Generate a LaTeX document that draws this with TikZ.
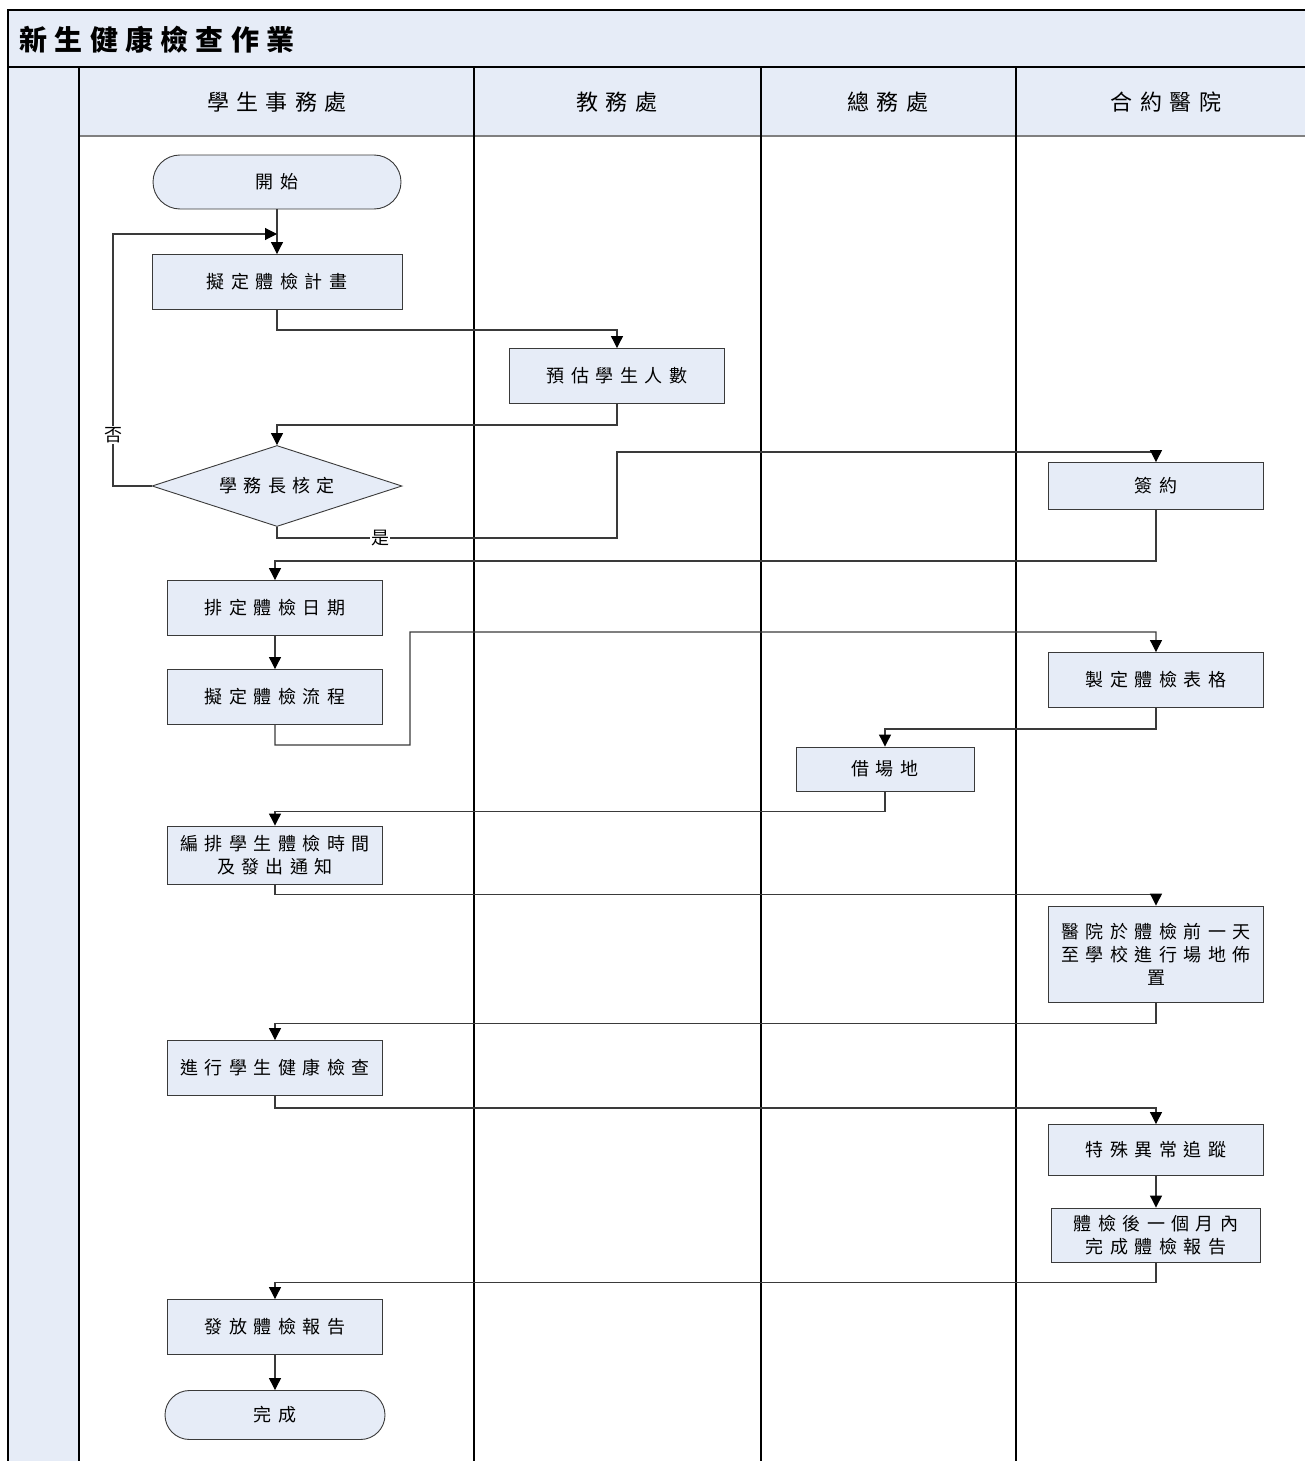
\documentclass[tikz,border=0pt]{standalone}
\usepackage{fontspec}
\setmainfont{Noto Sans CJK TC}
\usetikzlibrary{shapes.geometric,shapes.misc,arrows.meta}
\definecolor{fillb}{HTML}{E6ECF7}
\definecolor{ln}{HTML}{3A3A3A}
\newfontfamily\boxf{Noto Sans CJK TC}[LetterSpace=36]
\newfontfamily\headf{Noto Sans CJK TC}[LetterSpace=34]
\newfontfamily\titlef{Noto Sans CJK TC}[LetterSpace=26]
\begin{document}
\begin{tikzpicture}[x=1pt,y=-1pt,
  proc/.style={draw=ln,fill=fillb,line width=0.9pt,inner sep=1pt,align=center,
    font=\boxf\fontsize{18}{23}\selectfont,minimum width=215pt,minimum height=55pt},
  term/.style={proc,rounded rectangle},
  dec/.style={proc,diamond,aspect=3.09,minimum width=250pt,minimum height=81pt,inner sep=0pt},
  conn/.style={draw=ln,line width=1.1pt,-{Triangle[length=12pt,width=12pt,color=black]}},
  lbl/.style={fill=white,inner sep=1pt,font=\boxf\fontsize{18}{20}\selectfont},
  lane/.style={draw=black,line width=1.3pt},
  head/.style={font=\headf\fontsize{22}{26}\selectfont}]
\useasboundingbox (0,0) rectangle (1305,1461);
% background bands
\fill[fillb] (8,10) rectangle (1305,67);
\fill[fillb] (79,67) rectangle (1305,136);
\fill[fillb] (8,67) rectangle (79,1461);
\draw[lane] (8,1461) -- (8,10) -- (1305,10);
\draw[lane] (8,67) -- (1305,67);
\draw[draw=gray,line width=1.3pt] (79,136) -- (1305,136);
\foreach \x in {79,474,761,1016} \draw[lane] (\x,67) -- (\x,1461);
\node[anchor=west,font=\titlef\bfseries\fontsize{28}{30}\selectfont] (title) at (16,40) {新生健康檢查作業};
\node[head] (h1) at (277,102) {學生事務處};
\node[head] (h2) at (617,102) {教務處};
\node[head] (h3) at (888,102) {總務處};
\node[head] (h4) at (1166,102) {合約醫院};
% nodes
\node[term,minimum width=250pt,minimum height=54pt] (start) at (277,182) {開始};
\node[proc,minimum width=250pt] (plan) at (277,282) {擬定體檢計畫};
\node[proc] (est) at (617,376) {預估學生人數};
\node[dec] (dec) at (277,486) {學務長核定};
\node[proc,minimum height=47pt] (sign) at (1156,486) {簽約};
\node[proc] (sched) at (275,608) {排定體檢日期};
\node[proc] (flow) at (275,697) {擬定體檢流程};
\node[proc] (form) at (1156,680) {製定體檢表格};
\node[proc,minimum width=178pt,minimum height=44pt] (venue) at (885,769) {借場地};
\node[proc,minimum height=58pt] (notice) at (275,855) {編排學生體檢時間\\及發出通知};
\node[proc,minimum height=96pt] (setup) at (1156,954) {醫院於體檢前一天\\至學校進行場地佈\\置};
\node[proc] (exam) at (275,1068) {進行學生健康檢查};
\node[proc,minimum height=51pt] (follow) at (1156,1150) {特殊異常追蹤};
\node[proc,minimum width=209pt,minimum height=54pt] (report) at (1156,1235) {體檢後一個月內\\完成體檢報告};
\node[proc] (issue) at (275,1327) {發放體檢報告};
\node[term,minimum width=222pt,minimum height=49pt] (done) at (275,1415) {完成};
% connectors
\draw[conn] (start.south) -- (plan.north);
\coordinate (loopend) at (277,234);
\draw[conn] (dec.west) -- (113,486) -- (113,234) -- (loopend);
\node[lbl] (no) at (113,435) {否};
\draw[conn] (plan.south) -- ++(0,20) -| (est.north);
\draw[conn] (est.south) -- ++(0,21) -| (dec.north);
\draw[conn] (dec.south) |- (617,538) -- (617,452) -| (sign.north);
\node[lbl] (yes) at (380,538) {是};
\draw[conn] (sign.south) -- ++(0,51) -| (sched.north);
\draw[conn] (sched.south) -- (flow.north);
\draw[conn] (flow.south) -- ++(0,20) -- (410,745) -- (410,632) -| (form.north);
\draw[conn] (form.south) -- ++(0,21) -| (venue.north);
\draw[conn] (venue.south) -- ++(0,20) -| (notice.north);
\draw[conn] (notice.south) -- ++(0,10) -| (setup.north);
\draw[conn] (setup.south) -- ++(0,21) -| (exam.north);
\draw[conn] (exam.south) -- ++(0,12) -| (follow.north);
\draw[conn] (follow.south) -- (report.north);
\draw[conn] (report.south) -- ++(0,20) -| (issue.north);
\draw[conn] (issue.south) -- (done.north);
\end{tikzpicture}
\end{document}
